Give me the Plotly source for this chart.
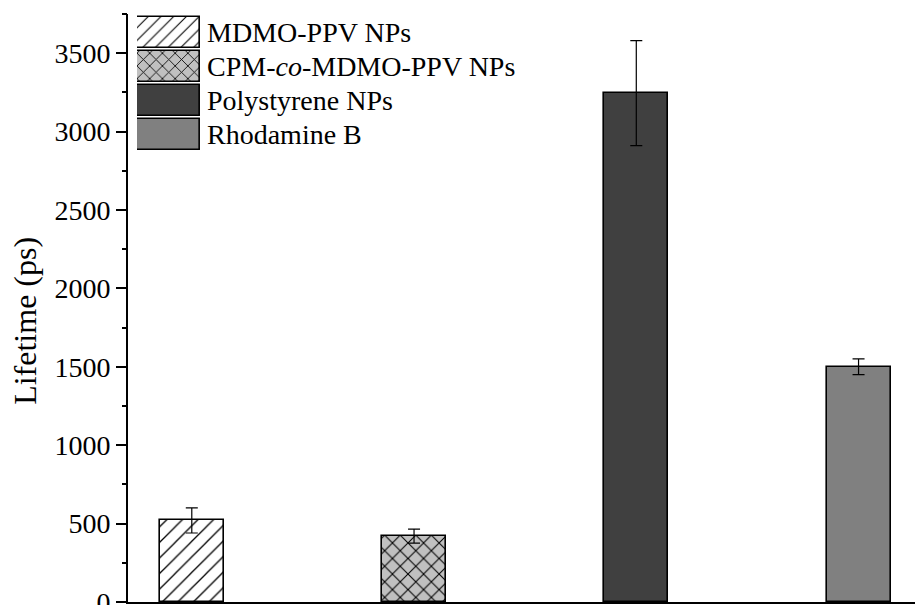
import plotly.graph_objects as go

# Fluorescence lifetimes of the four samples
samples = ["MDMO-PPV NPs", "CPM-<i>co</i>-MDMO-PPV NPs", "Polystyrene NPs", "Rhodamine B"]
lifetime_ps = [520, 420, 3245, 1500]
lifetime_err = [80, 45, 335, 50]

y_ticks = [0, 500, 1000, 1500, 2000, 2500, 3000, 3500]
y_minor_ticks = [250, 750, 1250, 1750, 2250, 2750, 3250, 3750]

# fill styles per sample: (background, pattern shape, line solidity)
fills = [
    ("white", "/", 0.12),
    ("#c0c0c0", "x", 0.18),
    ("#404040", "", 0.2),
    ("#808080", "", 0.2),
]

SERIF = "Liberation Serif"
Y_RANGE = [0, 3750]

fig = go.Figure()

for i, (name, val, err) in enumerate(zip(samples, lifetime_ps, lifetime_err)):
    bg, shape, sol = fills[i]
    fig.add_trace(go.Bar(
        x=[i], y=[val], width=0.288, name=name, showlegend=False,
        marker=dict(
            color=bg,
            line=dict(color="black", width=1.6),
            pattern=dict(shape=shape, fgcolor="black", bgcolor=bg,
                         size=11, solidity=sol, fillmode="replace"),
        ),
        error_y=dict(type="data", array=[err], visible=True,
                     color="black", thickness=1.2, width=6),
    ))

# empty trace so the minor-tick overlay axis gets drawn
fig.add_trace(go.Scatter(x=[], y=[], yaxis="y3", showlegend=False,
                         hoverinfo="skip"))

# key swatches drawn as horizontal bars on their own small axes
for i, name in enumerate(samples):
    bg, shape, sol = fills[i]
    fig.add_trace(go.Bar(
        x=[1], y=[i], orientation="h", width=0.9, showlegend=False,
        xaxis="x2", yaxis="y2", hoverinfo="skip",
        marker=dict(
            color=bg,
            line=dict(color="black", width=1.6),
            pattern=dict(shape=shape, fgcolor="black", bgcolor=bg,
                         size=9, solidity=sol, fillmode="replace"),
        ),
    ))
    fig.add_annotation(
        x=1, y=i, xref="x2", yref="y2", text=name, showarrow=False,
        xanchor="left", yanchor="middle", xshift=5,
        font=dict(family=SERIF, size=28, color="black"),
    )

# y-axis title
fig.add_annotation(
    text="Lifetime (ps)", textangle=-90, showarrow=False,
    xref="paper", yref="paper", x=-0.131, y=0.478,
    xanchor="center", yanchor="middle",
    font=dict(family=SERIF, size=32, color="black"),
)

fig.update_layout(
    width=915, height=605,
    margin=dict(l=128, r=0, t=14, b=3),
    paper_bgcolor="white", plot_bgcolor="white",
    template="none",
    bargap=0,
    font=dict(family=SERIF, color="black"),
    xaxis=dict(
        range=[-0.287, 3.254], showline=True, linecolor="black", linewidth=2,
        showgrid=False, zeroline=False, showticklabels=False, ticks="",
        automargin=False,
    ),
    yaxis=dict(
        range=Y_RANGE, showline=True, linecolor="black", linewidth=2,
        showgrid=False, zeroline=False,
        tickvals=y_ticks, ticklabeloverflow="allow",
        ticks="outside", ticklen=10, tickwidth=2, tickcolor="black",
        tickfont=dict(family=SERIF, size=28, color="black"),
        automargin=False,
    ),
    yaxis3=dict(
        overlaying="y", anchor="x", side="left", range=Y_RANGE,
        tickvals=y_minor_ticks, ticks="outside", ticklen=5, tickwidth=2,
        tickcolor="black", showticklabels=False, showline=False,
        showgrid=False, zeroline=False, automargin=False,
    ),
    xaxis2=dict(domain=[0.0114, 0.0915], range=[0, 1], visible=False,
                anchor="y2", fixedrange=True),
    yaxis2=dict(domain=[0.7653, 0.9983], range=[3.5, -0.5], visible=False,
                anchor="x2", fixedrange=True),
)

fig.write_html("out.html")
